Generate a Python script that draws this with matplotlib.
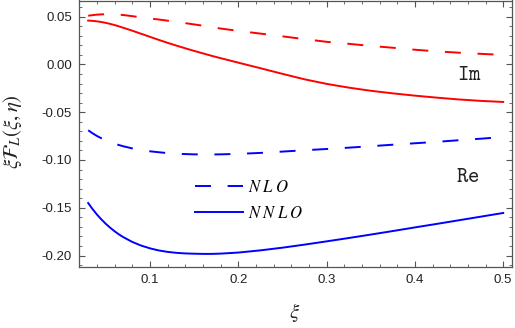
import matplotlib
matplotlib.use("Agg")
import matplotlib.pyplot as plt
from matplotlib.ticker import MultipleLocator, FormatStrFormatter

xi = [0.03, 0.035, 0.04, 0.045, 0.05, 0.055, 0.06, 0.065, 0.07, 0.08, 0.09, 0.10,
      0.11, 0.12, 0.13, 0.14, 0.15, 0.16, 0.17, 0.18, 0.20, 0.225, 0.25, 0.275,
      0.30, 0.325, 0.35, 0.375, 0.40, 0.425, 0.45, 0.475, 0.50]

im_nlo = [0.0509, 0.0515, 0.0520, 0.0523, 0.0524, 0.0524, 0.0523, 0.0520, 0.0516,
          0.0504, 0.0492, 0.0480, 0.0469, 0.0457, 0.0444, 0.0431, 0.0418, 0.0404,
          0.0389, 0.0375, 0.0350, 0.0322, 0.0293, 0.0264, 0.0236, 0.0215, 0.0193,
          0.0174, 0.0153, 0.0136, 0.0122, 0.0110, 0.0099]

im_nnlo = [0.0458, 0.0455, 0.0450, 0.0443, 0.0434, 0.0423, 0.0411, 0.0397, 0.0382,
           0.0352, 0.0320, 0.0288, 0.0256, 0.0225, 0.0196, 0.0168, 0.0141, 0.0115,
           0.0089, 0.0065, 0.0018, -0.0040, -0.0099, -0.0156, -0.0204, -0.0243,
           -0.0276, -0.0303, -0.0327, -0.0348, -0.0367, -0.0382, -0.0393]

re_nlo = [-0.0689, -0.0721, -0.0749, -0.0773, -0.0794, -0.0813, -0.0830, -0.0844,
          -0.0857, -0.0879, -0.0896, -0.0909, -0.0919, -0.0928, -0.0934, -0.0938,
          -0.0941, -0.0942, -0.0942, -0.0941, -0.0936, -0.0926, -0.0912, -0.0898,
          -0.0885, -0.0871, -0.0856, -0.0840, -0.0825, -0.0810, -0.0793, -0.0777,
          -0.0760]

re_nnlo = [-0.1450, -0.1514, -0.1571, -0.1622, -0.1668, -0.1709, -0.1746, -0.1779,
           -0.1808, -0.1857, -0.1895, -0.1924, -0.1946, -0.1961, -0.1971, -0.1977,
           -0.1980, -0.1982, -0.1982, -0.1979, -0.1968, -0.1945, -0.1917, -0.1885,
           -0.1851, -0.1816, -0.1780, -0.1743, -0.1705, -0.1668, -0.1630, -0.1592,
           -0.1554]

legend_labels = [r"$N\;L\;O$", r"$N\;N\;L\;O$"]

plt.rcParams['mathtext.fontset'] = 'stix'
plt.rcParams['font.family'] = ['Liberation Sans', 'DejaVu Sans']
plt.rcParams['lines.scale_dashes'] = False

fig = plt.figure(figsize=(5.15, 3.28), dpi=100)
ax = fig.add_axes([79/515, 1 - 267/328, (512 - 79)/515, (267 - 0.5)/328])

dash = (0, (11.5, 12))
lw = 1.4
ax.plot(xi, im_nlo, color='#ff0000', lw=lw, linestyle=dash)
ax.plot(xi, im_nnlo, color='#ff0000', lw=lw)
l1, = ax.plot(xi, re_nlo, color='#0000ff', lw=lw, linestyle=dash)
l2, = ax.plot(xi, re_nnlo, color='#0000ff', lw=lw)

ax.set_xlim(0.0196, 0.51)
ax.set_ylim(-0.2119, 0.0668)

ax.xaxis.set_major_locator(MultipleLocator(0.1))
ax.xaxis.set_minor_locator(MultipleLocator(0.02))
ax.yaxis.set_major_locator(MultipleLocator(0.05))
ax.yaxis.set_minor_locator(MultipleLocator(0.01))
ax.xaxis.set_major_formatter(FormatStrFormatter('%.1f'))
ax.yaxis.set_major_formatter(FormatStrFormatter('%.2f'))

frame = '#555555'
for s in ax.spines.values():
    s.set_color(frame)
    s.set_linewidth(0.9)
ax.tick_params(which='both', direction='in', top=True, right=True,
               color=frame, labelsize=9.5, labelcolor='#222222')
ax.tick_params(which='major', length=4, width=0.8, pad=5)
ax.tick_params(which='minor', length=2, width=0.6)

fig.text(13/515, 1 - 132/328, r"$\xi\mathcal{F}_L(\xi,\eta)$", rotation=90,
         ha='center', va='center', fontsize=15, color='#222222')
fig.text(295/515, 1 - 313/328, r"$\xi$", ha='center', va='center',
         fontsize=15, color='#222222')

fig.text(469/515, 1 - 75/328, r"$\mathtt{Im}$", math_fontfamily='cm', fontsize=15.5,
         ha='center', va='center', color='#222222')
fig.text(468/515, 1 - 177/328, r"$\mathtt{Re}$", math_fontfamily='cm', fontsize=15.5,
         ha='center', va='center', color='#222222')

ax.legend([l1, l2], legend_labels, loc='upper left', frameon=False,
          bbox_to_anchor=(195/515, 1 - 179/328), bbox_transform=fig.transFigure,
          borderpad=0, borderaxespad=0, handlelength=48/16.7, handletextpad=0.3,
          labelspacing=0.62, prop={'size': 12})

fig.savefig('out.png', dpi=100)
